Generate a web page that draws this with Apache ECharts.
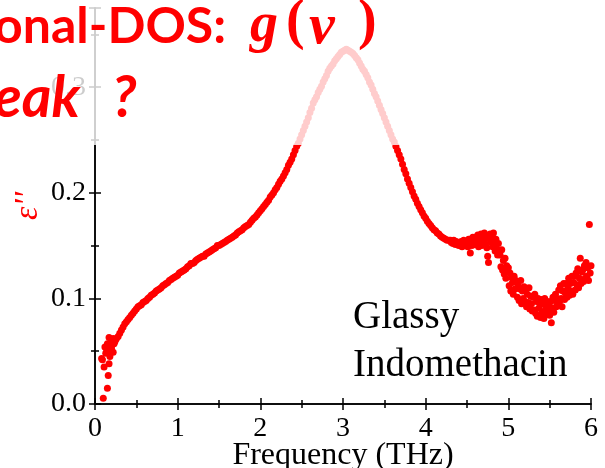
<!DOCTYPE html>
<html>
<head>
<meta charset="utf-8">
<script src="https://cdn.jsdelivr.net/npm/echarts@6/dist/echarts.min.js"></script>
<style>
  html, body { margin: 0; padding: 0; background: #fff; }
</style>
</head>
<body>
<div id="MyChart" style="width: 605px;height:468px;"></div>
<script>
// low-frequency end (noisy)
const lowFreq = [0.08, 0.09, 0.10, 0.11, 0.12, 0.13, 0.14, 0.15, 0.15, 0.16, 0.17, 0.17, 0.18, 0.18, 0.19, 0.20, 0.21, 0.22, 0.22, 0.23, 0.24, 0.25, 0.26]
const lowEps = [0.043, 0.042, 0.0055, 0.035, 0.054, 0.048, 0.052, 0.015, 0.057, 0.027, 0.038, 0.063, 0.050, 0.045, 0.058, 0.053, 0.060, 0.049, 0.062, 0.057, 0.059, 0.061, 0.062]

// smooth part up to the peak and down again
const midFreq = [0.28, 0.32, 0.36, 0.40, 0.44, 0.48, 0.52, 0.56, 0.60, 0.64, 0.68, 0.72, 0.76, 0.80, 0.84, 0.88, 0.92, 0.96,
  1.00, 1.04, 1.08, 1.12, 1.16, 1.20, 1.24, 1.28, 1.32, 1.36, 1.40, 1.44, 1.48, 1.52, 1.56, 1.60, 1.64, 1.68, 1.72, 1.76, 1.80, 1.84, 1.88, 1.92, 1.96,
  2.00, 2.04, 2.08, 2.12, 2.16, 2.20, 2.24, 2.28, 2.32, 2.36, 2.40, 2.44, 2.48, 2.52, 2.56, 2.60, 2.64, 2.68, 2.72, 2.76, 2.80, 2.84, 2.88, 2.92, 2.96,
  3.00, 3.04, 3.08, 3.12, 3.16, 3.20, 3.24, 3.28, 3.32, 3.36, 3.40, 3.44, 3.48, 3.52, 3.56, 3.60, 3.64, 3.68, 3.72, 3.76, 3.80, 3.84, 3.88, 3.92, 3.96,
  4.00, 4.04, 4.08, 4.12, 4.16, 4.20, 4.24, 4.28]
const midEps = [0.064, 0.070, 0.076, 0.080, 0.084, 0.088, 0.092, 0.094, 0.097, 0.100, 0.103, 0.105, 0.108, 0.110, 0.113, 0.115, 0.118, 0.120,
  0.122, 0.125, 0.127, 0.130, 0.133, 0.134, 0.137, 0.139, 0.140, 0.143, 0.145, 0.147, 0.150, 0.151, 0.153, 0.155, 0.157, 0.159, 0.162, 0.164, 0.167, 0.169, 0.172, 0.176, 0.179,
  0.183, 0.187, 0.191, 0.196, 0.200, 0.205, 0.211, 0.216, 0.222, 0.229, 0.236, 0.244, 0.251, 0.259, 0.267, 0.276, 0.285, 0.291, 0.298, 0.305, 0.311, 0.318, 0.322, 0.327, 0.331,
  0.334, 0.336, 0.334, 0.332, 0.328, 0.323, 0.317, 0.312, 0.305, 0.298, 0.291, 0.283, 0.275, 0.267, 0.259, 0.251, 0.244, 0.236, 0.227, 0.218, 0.209, 0.201, 0.194, 0.187, 0.181,
  0.176, 0.171, 0.167, 0.164, 0.161, 0.158, 0.156, 0.155]

// in-between readings of the smooth part
const midFreqB = [0.30, 0.34, 0.38, 0.42, 0.46, 0.50, 0.54, 0.58, 0.62, 0.66, 0.70, 0.74, 0.78, 0.82, 0.86, 0.90, 0.94, 0.98,
  1.02, 1.06, 1.10, 1.14, 1.18, 1.22, 1.26, 1.30, 1.34, 1.38, 1.42, 1.46, 1.50, 1.54, 1.58, 1.62, 1.66, 1.70, 1.74, 1.78, 1.82, 1.86, 1.90, 1.94, 1.98,
  2.02, 2.06, 2.10, 2.14, 2.18, 2.22, 2.26, 2.30, 2.34, 2.38, 2.42, 2.46, 2.50, 2.54, 2.58, 2.62, 2.66, 2.70, 2.74, 2.78, 2.82, 2.86, 2.90, 2.94, 2.98,
  3.02, 3.06, 3.10, 3.14, 3.18, 3.22, 3.26, 3.30, 3.34, 3.38, 3.42, 3.46, 3.50, 3.54, 3.58, 3.62, 3.66, 3.70, 3.74, 3.78, 3.82, 3.86, 3.90, 3.94, 3.98,
  4.02, 4.06, 4.10, 4.14, 4.18, 4.22, 4.26]
const midEpsB = [0.067, 0.073, 0.078, 0.082, 0.086, 0.090, 0.093, 0.096, 0.098, 0.101, 0.104, 0.107, 0.109, 0.112, 0.114, 0.117, 0.119, 0.121,
  0.124, 0.126, 0.128, 0.131, 0.133, 0.136, 0.138, 0.140, 0.142, 0.144, 0.146, 0.148, 0.150, 0.152, 0.154, 0.156, 0.158, 0.160, 0.163, 0.165, 0.168, 0.170, 0.174, 0.177, 0.181,
  0.185, 0.189, 0.193, 0.198, 0.203, 0.208, 0.213, 0.219, 0.226, 0.232, 0.240, 0.247, 0.255, 0.263, 0.271, 0.280, 0.288, 0.295, 0.301, 0.308, 0.315, 0.320, 0.325, 0.329, 0.333,
  0.335, 0.335, 0.333, 0.330, 0.326, 0.320, 0.315, 0.309, 0.302, 0.294, 0.287, 0.279, 0.271, 0.263, 0.255, 0.248, 0.240, 0.232, 0.222, 0.213, 0.205, 0.197, 0.190, 0.184, 0.178,
  0.173, 0.169, 0.165, 0.162, 0.159, 0.157, 0.155]

// high-frequency end (noisy)
const highFreq = [4.30, 4.31, 4.32, 4.33, 4.34, 4.35, 4.36, 4.37, 4.38, 4.39,
  4.40, 4.41, 4.42, 4.43, 4.44, 4.45, 4.46, 4.47, 4.48, 4.49,
  4.50, 4.51, 4.52, 4.53, 4.54, 4.55, 4.56, 4.57, 4.58, 4.59,
  4.60, 4.61, 4.62, 4.63, 4.64, 4.65, 4.66, 4.67, 4.68, 4.69,
  4.70, 4.71, 4.72, 4.73, 4.74, 4.75, 4.76, 4.77, 4.78, 4.79,
  4.80, 4.81, 4.82, 4.83, 4.84, 4.85, 4.86, 4.87, 4.88, 4.89,
  4.90, 4.91, 4.92, 4.93, 4.94, 4.95, 4.96, 4.97, 4.98, 4.99,
  5.00, 5.01, 5.02, 5.03, 5.04, 5.05, 5.06, 5.07, 5.08, 5.09,
  5.10, 5.11, 5.12, 5.13, 5.14, 5.15, 5.16, 5.17, 5.18, 5.19,
  5.20, 5.21, 5.22, 5.23, 5.24, 5.25, 5.26, 5.27, 5.28, 5.29,
  5.30, 5.31, 5.32, 5.33, 5.34, 5.35, 5.36, 5.37, 5.38, 5.39,
  5.40, 5.41, 5.42, 5.43, 5.44, 5.45, 5.46, 5.47, 5.48, 5.49,
  5.50, 5.51, 5.52, 5.53, 5.54, 5.55, 5.56, 5.57, 5.58, 5.59,
  5.60, 5.61, 5.62, 5.63, 5.64, 5.65, 5.66, 5.67, 5.68, 5.69,
  5.70, 5.71, 5.72, 5.73, 5.74, 5.75, 5.76, 5.77, 5.78, 5.79,
  5.80, 5.81, 5.82, 5.83, 5.84, 5.85, 5.86, 5.87, 5.88, 5.89,
  5.90, 5.91, 5.92, 5.93, 5.94, 5.95, 5.96, 5.97, 5.98, 5.99,
  6.00]
const highEps = [0.155, 0.153, 0.154, 0.152, 0.155, 0.153, 0.151, 0.154, 0.152, 0.153,
  0.150, 0.153, 0.151, 0.154, 0.149, 0.152, 0.155, 0.150, 0.153, 0.151,
  0.153, 0.149, 0.156, 0.151, 0.143, 0.155, 0.150, 0.158, 0.152, 0.156,
  0.151, 0.158, 0.153, 0.160, 0.149, 0.157, 0.154, 0.161, 0.150, 0.158,
  0.155, 0.162, 0.152, 0.159, 0.148, 0.140, 0.134, 0.157, 0.161, 0.153,
  0.158, 0.149, 0.162, 0.151, 0.145, 0.156, 0.147, 0.141, 0.152, 0.143,
  0.141, 0.130, 0.146, 0.127, 0.136, 0.123, 0.138, 0.119, 0.131, 0.126,
  0.129, 0.112, 0.124, 0.107, 0.120, 0.115, 0.104, 0.121, 0.109, 0.117,
  0.116, 0.101, 0.112, 0.098, 0.109, 0.117, 0.095, 0.107, 0.100, 0.111,
  0.097, 0.109, 0.092, 0.104, 0.096, 0.110, 0.090, 0.102, 0.095, 0.088,
  0.101, 0.089, 0.104, 0.086, 0.097, 0.083, 0.100, 0.091, 0.096, 0.082,
  0.099, 0.087, 0.095, 0.081, 0.100, 0.090, 0.085, 0.097, 0.088, 0.094,
  0.084, 0.097, 0.077, 0.091, 0.101, 0.087, 0.098, 0.104, 0.092, 0.100,
  0.094, 0.108, 0.097, 0.112, 0.100, 0.092, 0.107, 0.114, 0.099, 0.105,
  0.114, 0.101, 0.110, 0.119, 0.103, 0.114, 0.107, 0.121, 0.104, 0.115,
  0.121, 0.108, 0.124, 0.113, 0.128, 0.110, 0.119, 0.138, 0.114, 0.125,
  0.127, 0.116, 0.131, 0.119, 0.134, 0.121, 0.129, 0.117, 0.170, 0.124,
  0.131]

const xTicks = ['0', '1', '2', '3', '4', '5', '6']

let points = []
for (let i = 0; i < lowFreq.length; i++) points.push([lowFreq[i], lowEps[i]])
for (let i = 0; i < midFreq.length; i++) points.push([midFreq[i], midEps[i]])
for (let i = 0; i < midFreqB.length; i++) points.push([midFreqB[i], midEpsB[i]])
for (let i = 0; i < highFreq.length; i++) points.push([highFreq[i], highEps[i]])

let myChart = echarts.init(document.getElementById('MyChart'))

let serif = 'Liberation Serif'
let frameAxis = {
  axisLine: { show: true, lineStyle: { color: '#000', width: 1.5 } },
  axisTick: { show: true, inside: true, length: 6, lineStyle: { color: '#000', width: 1.5 } },
  minorTick: { show: true, splitNumber: 2, length: 4, lineStyle: { color: '#000', width: 1.5 } },
  splitLine: { show: false },
  minorSplitLine: { show: false }
}

let option = {
  animation: false,
  grid: { left: 95, right: 14, top: 8, bottom: 64, containLabel: false, outerBoundsMode: 'none' },
  xAxis: [
    Object.assign({}, frameAxis, {
      type: 'value', min: 0, max: 6, interval: 1, position: 'bottom',
      name: 'Frequency (THz)', nameLocation: 'middle', nameGap: 36, nameMoveOverlap: false,
      nameTextStyle: { fontFamily: serif, fontSize: 32, color: '#000' },
      axisLabel: {
        margin: 11, fontFamily: serif, fontSize: 28, color: '#000',
        formatter: v => xTicks[Math.round(v)]
      }
    }),
    Object.assign({}, frameAxis, {
      type: 'value', min: 0, max: 6, interval: 1, position: 'top',
      axisLabel: { show: false }
    })
  ],
  yAxis: [
    Object.assign({}, frameAxis, {
      type: 'value', min: 0, max: 0.375, interval: 0.1, position: 'left',
      name: 'ε\'\'', nameLocation: 'middle', nameGap: 50, nameRotate: 90, nameMoveOverlap: false,
      nameTextStyle: { fontFamily: serif, fontStyle: 'italic', fontSize: 34, color: '#ff0000' },
      axisLabel: {
        margin: 9, fontFamily: serif, fontSize: 28, color: '#000', showMaxLabel: false,
        formatter: v => Math.abs(v * 10 - Math.round(v * 10)) < 1e-6 ? v.toFixed(1) : ''
      }
    }),
    Object.assign({}, frameAxis, {
      type: 'value', min: 0, max: 0.375, interval: 0.1, position: 'right',
      axisLabel: { show: false }
    })
  ],
  graphic: [
    { type: 'text', z: 101, left: 353, top: 298,
      style: { text: 'Glassy', font: '39px "Liberation Serif"', fill: '#000' } },
    { type: 'text', z: 101, left: 353, top: 346,
      style: { text: 'Indomethacin', font: '39px "Liberation Serif"', fill: '#000' } },
    { type: 'rect', z: 100, shape: { x: 0, y: 0, width: 605, height: 145 },
      style: { fill: 'rgba(255,255,255,0.8)' } },
    { type: 'text', z: 101, left: -6, top: 2,
      style: { text: 'onal-DOS:', font: 'bold 50px Lato', fill: '#ff0000' } },
    { type: 'text', z: 101, left: 250, top: -1,
      style: { text: 'g', font: 'italic bold 56px "Liberation Serif"', fill: '#ff0000' } },
    { type: 'text', z: 101, left: 286, top: -4,
      style: { text: '(', font: 'bold 56px "Liberation Serif"', fill: '#ff0000' } },
    { type: 'text', z: 101, left: 309, top: -1,
      style: { text: 'ν', font: 'italic bold 58px "Liberation Serif"', fill: '#ff0000' } },
    { type: 'text', z: 101, left: 358, top: -4,
      style: { text: ')', font: 'bold 56px "Liberation Serif"', fill: '#ff0000' } },
    { type: 'text', z: 101, left: -6, top: 70,
      style: { text: 'eak', font: 'italic bold 57px Lato', fill: '#ff0000' } },
    { type: 'text', z: 101, left: 112, top: 70,
      style: { text: '?', font: 'italic bold 57px Lato', fill: '#ff0000' } }
  ],
  series: [
    {
      name: 'ε\'\'',
      type: 'scatter',
      xAxisIndex: 0,
      yAxisIndex: 0,
      data: points,
      symbol: 'circle',
      symbolSize: 7,
      itemStyle: { color: '#ff0000', opacity: 1 }
    }
  ]
}
myChart.setOption(option)
</script>
</body>
</html>
